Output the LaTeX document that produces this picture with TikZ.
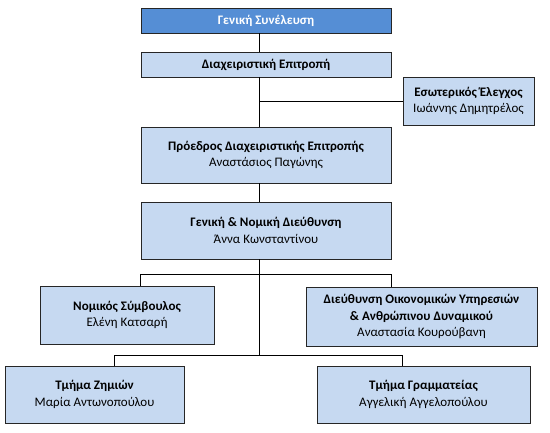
\documentclass[tikz,border=0pt]{standalone}
\usepackage{fontspec}
\setmainfont{Carlito}
\usepackage{tikz}
\usetikzlibrary{positioning,calc}
\definecolor{unitfill}{HTML}{C6D9F1}
\definecolor{headfill}{HTML}{558ED5}

\begin{document}
\begin{tikzpicture}[x=1pt,y=-1pt,
  every node/.style={font=\fontsize{13}{16.5}\selectfont,align=center},
  unit/.style={draw=black!85,fill=unitfill,line width=0.9pt,inner sep=0pt},
  headbox/.style={unit,fill=headfill,text=white,font=\fontsize{13}{16.5}\selectfont\bfseries},
  link/.style={draw=black,line width=0.9pt}
]
\useasboundingbox (0,0) rectangle (550,433);

\node[headbox,minimum width=250,minimum height=25] (gs) at (266,20.5) {Γενική Συνέλευση};
\node[unit,minimum width=250,minimum height=25] (de) at (266,64.5) {\textbf{Διαχειριστική Επιτροπή}};
\node[unit,minimum width=131,minimum height=48] (ee) at (468.5,101) {\textbf{Εσωτερικός Έλεγχος}\\Ιωάννης Δημητρέλος};
\node[unit,minimum width=250,minimum height=56] (pr) at (266,155) {\textbf{Πρόεδρος Διαχειριστικής Επιτροπής}\\Αναστάσιος Παγώνης};
\node[unit,minimum width=250,minimum height=57] (gn) at (266,230.5) {\textbf{Γενική \& Νομική Διεύθυνση}\\Άννα Κωνσταντίνου};

\node[unit,minimum width=174,minimum height=58] (ns) at (127,315) {\textbf{Νομικός Σύμβουλος}\\Ελένη Κατσαρή};
\node[unit,minimum width=231,minimum height=59] (do) at (421.5,316.5) {\textbf{Διεύθυνση Οικονομικών Υπηρεσιών}\\\textbf{\& Ανθρώπινου Δυναμικού}\\Αναστασία Κουρούβανη};
\node[unit,minimum width=179,minimum height=57] (tz) at (94.5,394.5) {\textbf{Τμήμα Ζημιών}\\Μαρία Αντωνοπούλου};
\node[unit,minimum width=213,minimum height=57] (tg) at (423.5,394.5) {\textbf{Τμήμα Γραμματείας}\\Αγγελική Αγγελοπούλου};

% junctions of the tree
\coordinate (spine) at (259,0);
\coordinate (j1l) at (140,274);
\coordinate (j1r) at (391,274);
\coordinate (j2) at (259,355);
\coordinate (j2l) at (114,355);
\coordinate (j2r) at (402,355);

\draw[link] (gs.south -| spine) -- (de.north -| spine);
\draw[link] (de.south -| spine) -- (pr.north -| spine);
\draw[link] (ee.west -| spine) -- (ee.west);
\draw[link] (pr.south -| spine) -- (gn.north -| spine);
\draw[link] (gn.south -| spine) -- (j2);
\draw[link] (ns.north -| j1l) -- (j1l) -- (j1r) -- (do.north -| j1r);
\draw[link] (tz.north -| j2l) -- (j2l) -- (j2r) -- (tg.north -| j2r);
\end{tikzpicture}
\end{document}
